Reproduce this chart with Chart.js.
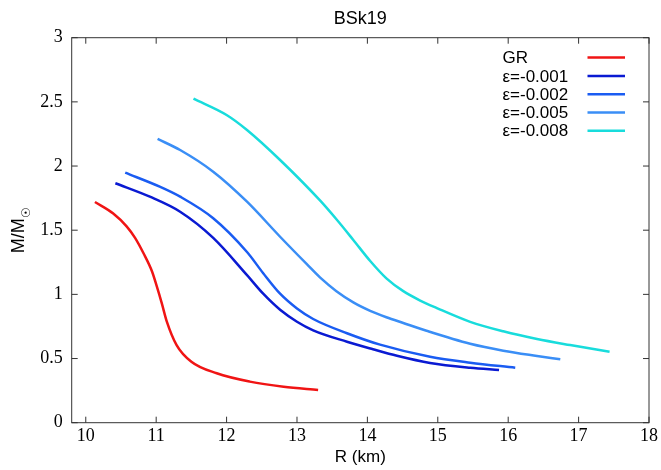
<!DOCTYPE html>
<html>
<head>
<meta charset="utf-8">
<script src="https://cdn.jsdelivr.net/npm/chart.js@4.4.1/dist/chart.umd.min.js"></script>
<style>
  html, body { margin: 0; padding: 0; background: #fff; }
  #wrap { width: 661px; height: 470px; position: relative; }
</style>
</head>
<body>
<div id="wrap"><canvas id="mr" width="661" height="470"></canvas></div>
<script>
// Mass-radius curves, BSk19 EoS
const rGR = [10.13, 10.39, 10.58, 10.70, 10.82, 10.94, 11.01, 11.08, 11.15, 11.29, 11.50, 11.86, 12.33, 12.81, 13.30];
const mGR = [1.72, 1.63, 1.53, 1.44, 1.32, 1.18, 1.06, 0.93, 0.79, 0.605, 0.475, 0.385, 0.32, 0.28, 0.255];

const rE001 = [10.42, 10.91, 11.34, 11.81, 12.29, 12.52, 12.76, 13.00, 13.23, 13.71, 14.08, 14.42, 14.89, 15.46, 15.87];
const mE001 = [1.866, 1.761, 1.644, 1.44, 1.15, 1.005, 0.88, 0.787, 0.72, 0.631, 0.572, 0.521, 0.465, 0.428, 0.411];

const rE002 = [10.56, 11.05, 11.34, 11.81, 12.29, 12.52, 12.76, 13.00, 13.23, 13.71, 14.18, 14.89, 15.46, 16.10];
const mE002 = [1.948, 1.839, 1.761, 1.593, 1.33, 1.165, 1.005, 0.89, 0.808, 0.697, 0.608, 0.514, 0.468, 0.429];

const rE005 = [11.02, 11.34, 11.81, 12.29, 12.76, 13.14, 13.33, 13.56, 13.80, 14.04, 14.27, 14.51, 14.84, 15.46, 15.93, 16.41, 16.74];
const mE005 = [2.211, 2.125, 1.956, 1.722, 1.449, 1.235, 1.13, 1.025, 0.938, 0.872, 0.822, 0.777, 0.716, 0.615, 0.561, 0.520, 0.494];

const rE008 = [11.53, 12.00, 12.29, 12.76, 13.33, 13.56, 13.80, 14.04, 14.27, 14.51, 14.75, 14.98, 15.46, 15.93, 16.41, 16.88, 17.44];
const mE008 = [2.525, 2.398, 2.281, 2.047, 1.730, 1.585, 1.424, 1.26, 1.125, 1.025, 0.952, 0.895, 0.786, 0.712, 0.652, 0.605, 0.553];

const seriesLabels = ['GR', 'ε=-0.001', 'ε=-0.002', 'ε=-0.005', 'ε=-0.008'];
const seriesColors = ['#f01414', '#0a1ad2', '#1a5cf2', '#3a8ef6', '#18dcdc'];

const xMin = 9.8, xMax = 18, xStep = 1;
const yMin = 0, yMax = 3, yStep = 0.5;

const plotTitle = 'BSk19';
const xTitle = 'R (km)';

function pts(rs, ms) {
  return rs.map((r, i) => ({ x: r, y: ms[i] }));
}

const allR = [rGR, rE001, rE002, rE005, rE008];
const allM = [mGR, mE001, mE002, mE005, mE008];

const datasets = seriesLabels.map((lab, i) => ({
  label: lab,
  data: pts(allR[i], allM[i]),
  borderColor: seriesColors[i],
  backgroundColor: seriesColors[i],
  borderWidth: 2.5,
  pointRadius: 0,
  cubicInterpolationMode: 'monotone',
  fill: false
}));

const SANS = '"Liberation Sans", Arial, sans-serif';
const SERIF = '"Liberation Serif", "Times New Roman", serif';

// frame, inner ticks, title, y label, legend (gnuplot style)
const decor = {
  id: 'decor',
  afterDatasetsDraw(chart) {
    const ctx = chart.ctx;
    const a = chart.chartArea;
    const xs = chart.scales.x, ys = chart.scales.y;
    const tl = 6;
    ctx.save();
    ctx.strokeStyle = '#333';
    ctx.lineWidth = 1;
    ctx.strokeRect(a.left, a.top, a.right - a.left, a.bottom - a.top);
    ctx.beginPath();
    xs.ticks.forEach(t => {
      const px = xs.getPixelForValue(t.value);
      ctx.moveTo(px, a.bottom); ctx.lineTo(px, a.bottom - tl);
      ctx.moveTo(px, a.top); ctx.lineTo(px, a.top + tl);
    });
    ys.ticks.forEach(t => {
      const py = ys.getPixelForValue(t.value);
      ctx.moveTo(a.left, py); ctx.lineTo(a.left + tl, py);
      ctx.moveTo(a.right, py); ctx.lineTo(a.right - tl, py);
    });
    ctx.stroke();

    // title
    ctx.fillStyle = '#000';
    ctx.font = '18px ' + SANS;
    ctx.textAlign = 'center';
    ctx.textBaseline = 'middle';
    ctx.fillText(plotTitle, (a.left + a.right) / 2, 19);

    // y title: M/M with sun subscript
    ctx.save();
    ctx.translate(24, (a.top + a.bottom) / 2);
    ctx.rotate(-Math.PI / 2);
    ctx.textBaseline = 'alphabetic';
    ctx.textAlign = 'left';
    ctx.font = '18px ' + SANS;
    const main = 'M/M';
    const w1 = ctx.measureText(main).width;
    ctx.font = '12px ' + SANS;
    const w2 = ctx.measureText('☉').width;
    const x0 = -(w1 + w2) / 2;
    ctx.font = '18px ' + SANS;
    ctx.fillText(main, x0, 0);
    ctx.font = '12px ' + SANS;
    ctx.fillText('☉', x0 + w1 + 0.5, 6);
    ctx.restore();

    // legend: text left, line sample right
    const rowY = [57.5, 76, 94.3, 112.5, 130.8];
    ctx.font = '17px ' + SANS;
    ctx.textAlign = 'left';
    ctx.textBaseline = 'middle';
    chart.data.datasets.forEach((ds, i) => {
      const y = rowY[i];
      ctx.fillStyle = '#000';
      ctx.fillText(ds.label, 502.5, y + 1);
      ctx.strokeStyle = ds.borderColor;
      ctx.lineWidth = 2.5;
      ctx.beginPath();
      ctx.moveTo(587.5, y);
      ctx.lineTo(625, y);
      ctx.stroke();
    });
    ctx.restore();
  }
};

new Chart(document.getElementById('mr'), {
  type: 'line',
  data: { datasets },
  plugins: [decor],
  options: {
    responsive: false,
    animation: false,
    layout: { padding: { left: 0, right: 11, top: 37.7, bottom: 0 } },
    plugins: {
      legend: { display: false },
      title: { display: false },
      tooltip: { enabled: false }
    },
    scales: {
      x: {
        type: 'linear',
        min: xMin, max: xMax,
        ticks: {
          stepSize: xStep, includeBounds: false,
          font: { family: SERIF, size: 18 }, color: '#000', padding: 3,
          maxRotation: 0,
          callback: v => String(v)
        },
        grid: { display: false, drawTicks: false },
        border: { display: false },
        title: {
          display: true, text: xTitle, color: '#000',
          font: { family: SANS, size: 17 }, padding: { top: 0, bottom: 2 }
        },
        afterFit(s) { s.height = 47.3; }
      },
      y: {
        type: 'linear',
        min: yMin, max: yMax,
        ticks: {
          stepSize: yStep,
          font: { family: SERIF, size: 18 }, color: '#000', padding: 9,
          callback: v => String(v)
        },
        grid: { display: false, drawTicks: false },
        border: { display: false },
        afterFit(s) { s.width = 71.7; }
      }
    }
  }
});
</script>
</body>
</html>
